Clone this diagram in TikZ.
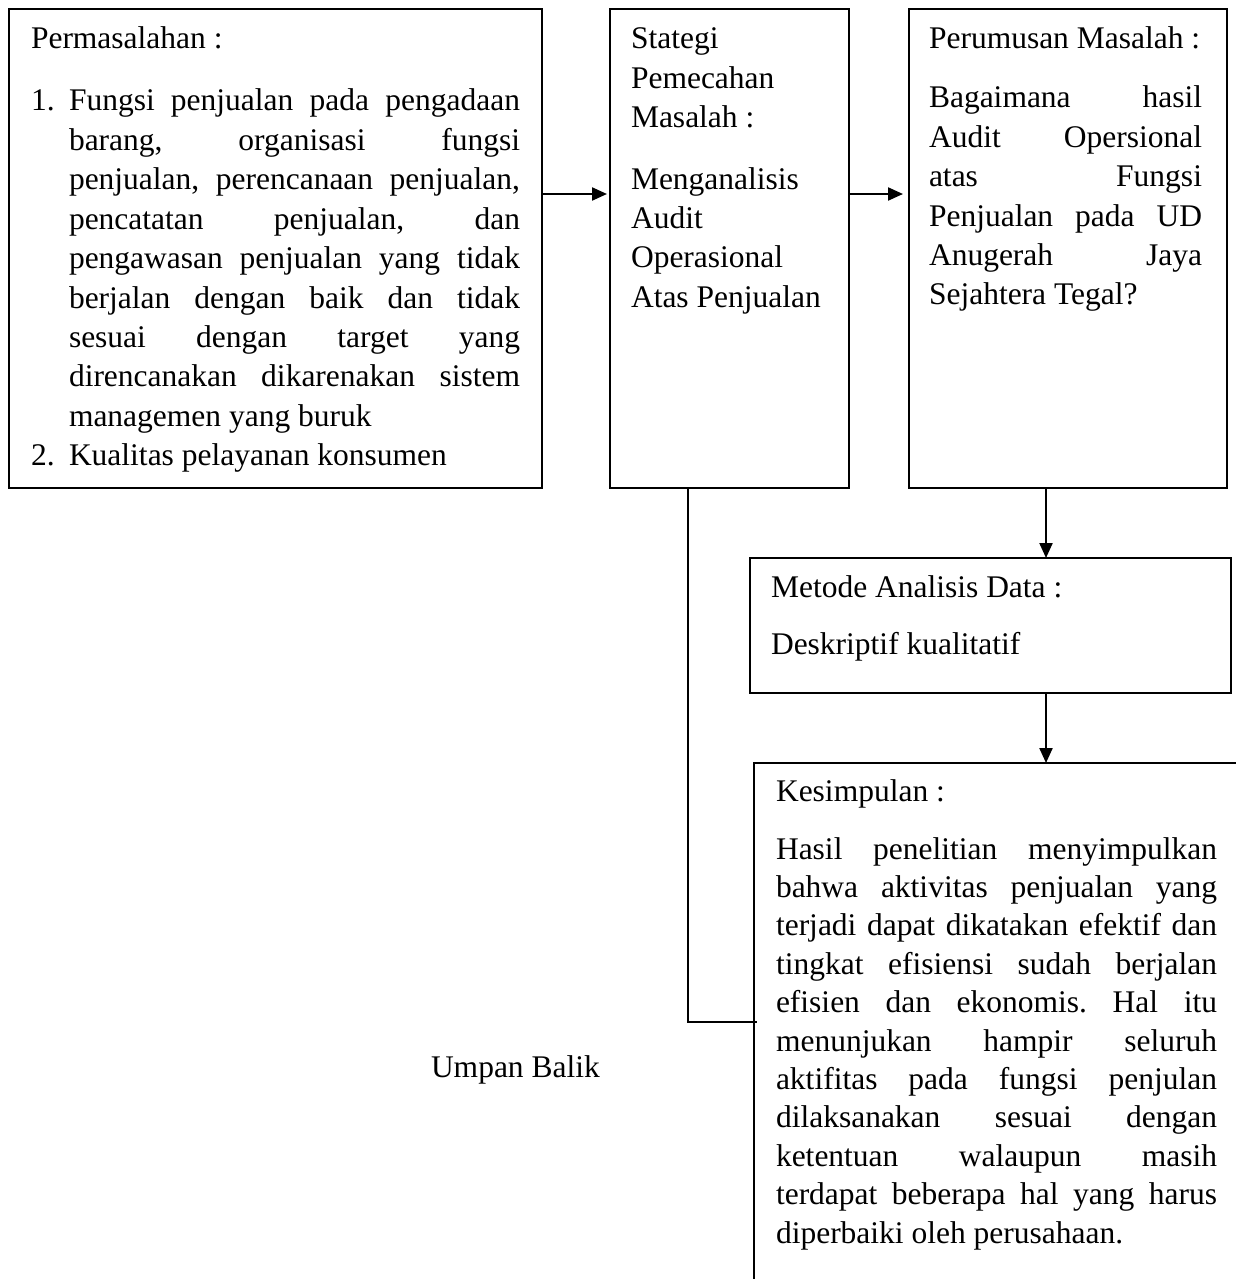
\documentclass[tikz,border=0pt]{standalone}
\usepackage{fontspec}
\setmainfont{Liberation Serif}
\usetikzlibrary{arrows.meta}
\frenchspacing
\newcommand\tcol[2]{\vtop{\hsize=#1\relax\parindent=0pt #2}}
\newcommand\jrow[1]{\hbox to\hsize{#1}}
\newcommand\lrow[1]{\hbox{#1}}
\tikzset{
  line/.style={draw=black, line width=2.2pt},
  box/.style={line, rectangle, inner sep=0pt, outer sep=0pt, anchor=north west},
  arr/.style={line, -{Triangle[length=15pt,width=13pt]}},
  txt/.style={anchor=base west, inner sep=0pt, outer sep=0pt, font=\fontsize{31.5}{39.4}\selectfont\frenchspacing},
  txtk/.style={txt, font=\fontsize{31.5}{38.4}\selectfont\frenchspacing},
}
\begin{document}
\begin{tikzpicture}[x=1pt, y=-1pt]
\useasboundingbox[fill=white] (0,0) rectangle (1236,1279);
% boxes
\node[box, minimum width=533pt, minimum height=479pt] (b1) at (9,9) {};
\node[box, minimum width=239pt, minimum height=479pt] (b2) at (610,9) {};
\node[box, minimum width=318pt, minimum height=479pt] (b3) at (909,9) {};
\node[box, minimum width=481pt, minimum height=135pt] (m) at (750,558) {};
\node[inner sep=0pt, outer sep=0pt, anchor=north west, minimum width=490pt, minimum height=525pt] (k) at (754,763) {};
\draw[line] (k.south west) -- (k.north west) -- (k.north east);
% texts box 1
\node[txt] (t1h) at (31,49) {Permasalahan :};
\node[txt] (n1) at (31,111) {1.};
\node[txt] (t1a) at (69,111) {\tcol{451pt}{%
\jrow{Fungsi penjualan pada pengadaan}
\jrow{barang, organisasi fungsi}
\jrow{penjualan, perencanaan penjualan,}
\jrow{pencatatan penjualan, dan}
\jrow{pengawasan penjualan yang tidak}
\jrow{berjalan dengan baik dan tidak}
\jrow{sesuai dengan target yang}
\jrow{direncanakan dikarenakan sistem}
\lrow{managemen yang buruk}}};
\node[txt] (n2) at (31,465.6) {2.};
\node[txt] (t1b) at (69,465.6) {Kualitas pelayanan konsumen};
% box 2
\node[txt] (t2h) at (631,49) {\tcol{200pt}{\lrow{Stategi}\lrow{Pemecahan}\lrow{Masalah :}}};
\node[txt] (t2b) at (631,189) {\tcol{200pt}{\lrow{Menganalisis}\lrow{Audit}\lrow{Operasional}\lrow{Atas Penjualan}}};
% box 3
\node[txt] (t3h) at (929,49) {Perumusan Masalah :};
\node[txt] (t3b) at (929,108) {\tcol{273pt}{%
\jrow{Bagaimana hasil}
\jrow{Audit Opersional}
\jrow{atas Fungsi}
\jrow{Penjualan pada UD}
\jrow{Anugerah Jaya}
\lrow{Sejahtera Tegal?}}};
% metode
\node[txt] (t4h) at (771,597) {Metode Analisis Data :};
\node[txt] (t4b) at (771,654) {Deskriptif kualitatif};
% kesimpulan
\node[txtk] (t5h) at (776,801) {Kesimpulan :};
\node[txtk] (t5b) at (776,859) {\tcol{441pt}{%
\jrow{Hasil penelitian menyimpulkan}
\jrow{bahwa aktivitas penjualan yang}
\jrow{terjadi dapat dikatakan efektif dan}
\jrow{tingkat efisiensi sudah berjalan}
\jrow{efisien dan ekonomis. Hal itu}
\jrow{menunjukan hampir seluruh}
\jrow{aktifitas pada fungsi penjulan}
\jrow{dilaksanakan sesuai dengan}
\jrow{ketentuan walaupun masih}
\jrow{terdapat beberapa hal yang harus}
\lrow{diperbaiki oleh perusahaan.}}};
\node[txt] (ub) at (431,1077) {Umpan Balik};
% connectors
\coordinate (ay) at (0,194);
\coordinate (ax) at (1046,0);
\coordinate (fb) at (688,1022);
\draw[arr, shorten >=3pt] (b1.east |- ay) -- (b2.west |- ay);
\draw[arr, shorten >=6pt] (b2.east |- ay) -- (b3.west |- ay);
\draw[arr] (b3.south -| ax) -- (m.north -| ax);
\draw[arr] (m.south -| ax) -- (k.north -| ax);
\draw[line] (b2.south -| fb) |- ([xshift=3pt]k.west |- fb);
\end{tikzpicture}
\end{document}
